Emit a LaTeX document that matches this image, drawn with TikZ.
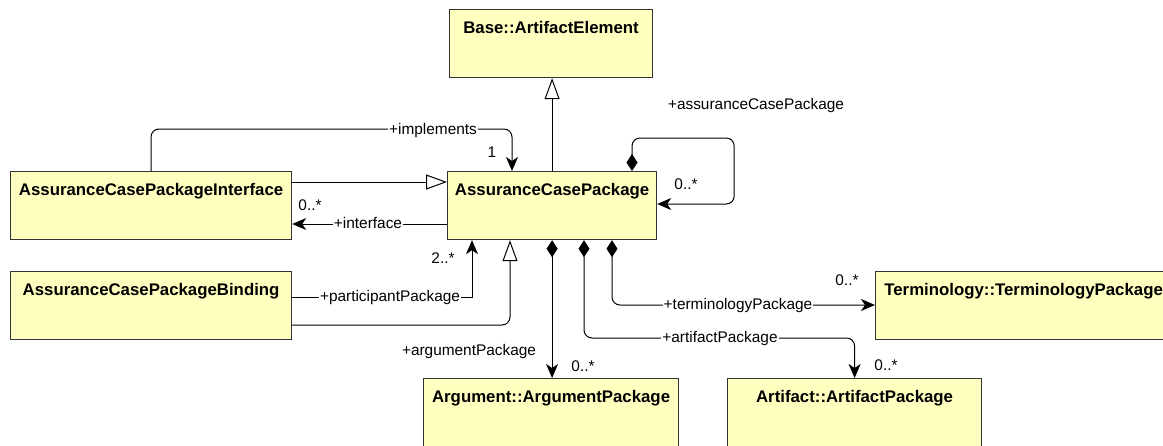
\documentclass[tikz,border=0pt]{standalone}
\usepackage{fontspec}
\setmainfont{Liberation Sans}
\usetikzlibrary{arrows.meta,calc}

\definecolor{clsfill}{RGB}{255,255,192}

\begin{document}
\begin{tikzpicture}[x=1pt,y=-1pt]

\tikzstyle cls=[rectangle, draw=black!80, fill=clsfill, line width=1.2pt, anchor=north west, inner xsep=0pt, inner ysep=0pt, minimum height=68pt, text height=24pt, text depth=44pt, font=\fontsize{16.8}{20}\selectfont\bfseries]
\tikzstyle lbl=[fill=white, inner sep=1pt, text height=11pt, text depth=3pt, font=\fontsize{15.4}{18}\selectfont]
\tikzstyle mult=[inner sep=0pt, text height=11pt, text depth=3pt, font=\fontsize{15.4}{18}\selectfont]
\tikzstyle gen=[line width=1pt, -{Triangle[open, length=21pt, width=15pt, fill=white]}]
\tikzstyle nav=[line width=1pt, -{Stealth[length=14pt, width=12pt, inset=4pt]}]
\tikzstyle comp=[line width=1pt, {Diamond[length=17pt, width=11pt]}-{Stealth[length=14pt, width=12pt, inset=4pt]}]

\useasboundingbox (0,0) rectangle (1163,445);

\node (base) [cls, minimum width=203pt] at (449,9)   {Base::ArtifactElement};
\node (acp)  [cls, minimum width=209pt] at (447,171) {AssuranceCasePackage};
\node (ifc)  [cls, minimum width=281pt] at (10,171)  {AssuranceCasePackageInterface};
\node (bind) [cls, minimum width=281pt] at (10,271)  {AssuranceCasePackageBinding};
\node (term) [cls, minimum width=296pt] at (875,271) {Terminology::TerminologyPackage};
\node (arg)  [cls, minimum width=255pt] at (423,378) {Argument::ArgumentPackage};
\node (art)  [cls, minimum width=254pt] at (727,378) {Artifact::ArtifactPackage};

% generalizations
\draw [gen] (acp.north) -- (acp.north |- base.south);
\draw [gen] ($(ifc.north east)+(0,11)$) -- ($(acp.north west)+(0,11)$);
\draw [gen, rounded corners=8pt] ($(bind.north east)+(0,54)$) -| ($(acp.south west)+(63,0)$);

% associations
\draw [nav] ($(acp.north west)+(0,53)$) -- ($(ifc.north east)+(0,53)$);
\draw [nav, rounded corners=8pt] ($(ifc.north west)+(141,0)$) |- ($(acp.north west)+(65,-42)$) -- ($(acp.north west)+(65,0)$);
\draw [nav] ($(bind.north east)+(0,26)$) -| ($(acp.south west)+(25,0)$);

% compositions
\draw [comp, rounded corners=8pt] ($(acp.north west)+(185,0)$) |- ($(acp.north east)+(77,-33)$) |- ($(acp.north east)+(0,33)$);
\draw [comp] (acp.south) -- (acp.south |- arg.north);
\draw [comp, rounded corners=8pt] ($(acp.south west)+(137,0)$) |- ($(art.north)+(0,-40)$) -- (art.north);
\draw [comp, rounded corners=8pt] ($(acp.south west)+(165,0)$) |- ($(term.north west)+(0,34)$);

% role names and multiplicities
\node (limpl) [lbl]  at (433,130) {+implements};
\node (m1)    [mult] at (492,153) {1};
\node (lself) [mult] at (756,105) {+assuranceCasePackage};
\node (mself) [mult] at (686,185) {0..*};
\node (lifc)  [lbl]  at (368,224) {+interface};
\node (mifc)  [mult] at (310,206) {0..*};
\node (lpart) [lbl]  at (390,297) {+participantPackage};
\node (mpart) [mult] at (443,259) {2..*};
\node (larg)  [mult] at (469,351) {+argumentPackage};
\node (marg)  [mult] at (583,367) {0..*};
\node (lterm) [lbl]  at (738,305) {+terminologyPackage};
\node (mterm) [mult] at (847,281) {0..*};
\node (lart)  [lbl]  at (720,338) {+artifactPackage};
\node (mart)  [mult] at (886,366) {0..*};

\end{tikzpicture}
\end{document}
